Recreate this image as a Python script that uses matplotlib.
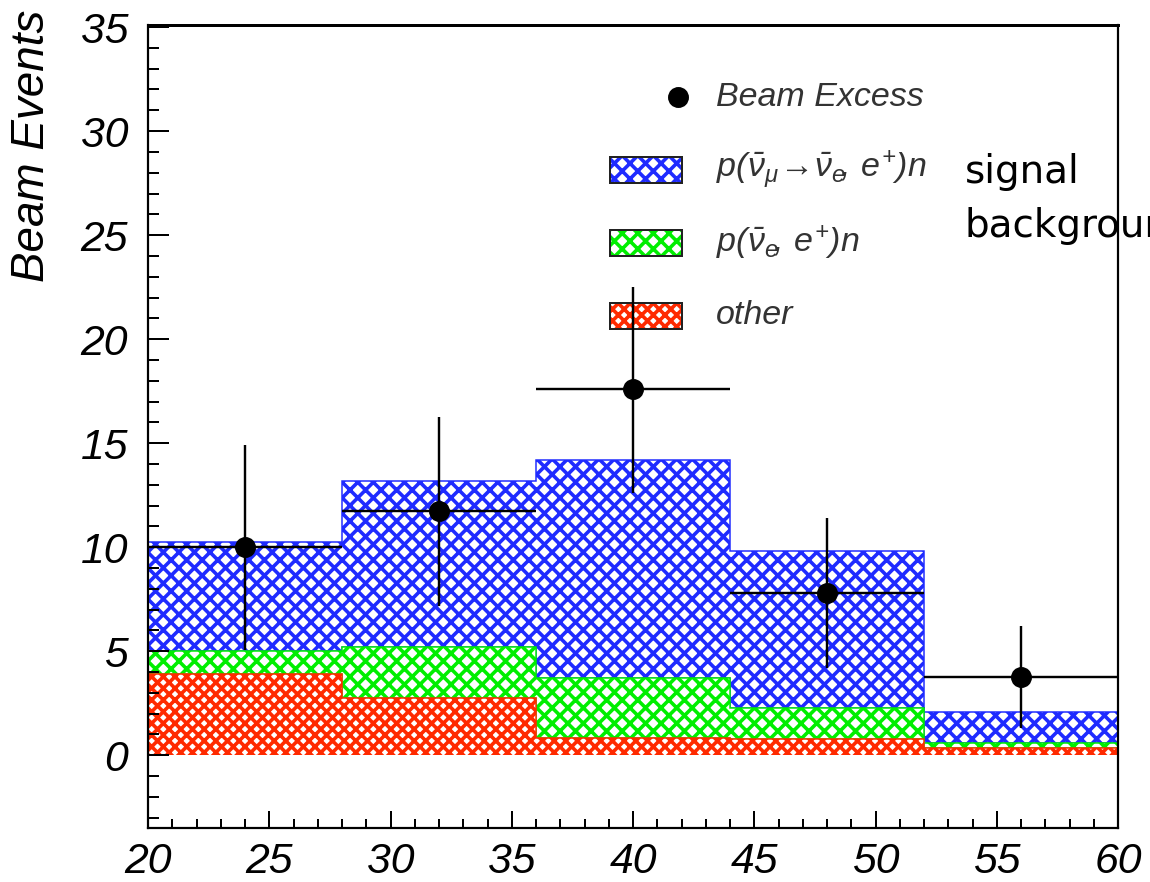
#!/usr/bin/env python3
"""
Beam excess vs. stacked expectation (signal + backgrounds), ROOT-style figure.
Writes out.png (1150x882).
"""

import matplotlib
matplotlib.use("Agg")
import matplotlib.pyplot as plt
import matplotlib.ticker as ticker
from matplotlib.patches import Rectangle
import numpy as np

# ---------------------------------------------------------------------------
# Data
# ---------------------------------------------------------------------------
BIN_EDGES = [20, 28, 36, 44, 52, 60]

# per-component contributions, stacked bottom -> top
OTHER     = [3.9, 2.75, 0.85, 0.8, 0.35]
NUE_BKG   = [1.1, 2.45, 2.85, 1.45, 0.25]   # p(nubar_e, e+)n
SIGNAL    = [5.25, 8.0, 10.5, 7.55, 1.5]    # p(nubar_mu -> nubar_e, e+)n

EXCESS_X   = [24, 32, 40, 48, 56]
EXCESS_Y   = [10.0, 11.75, 17.6, 7.8, 3.75]
EXCESS_LO  = [4.95, 4.6, 5.0, 3.6, 2.45]
EXCESS_HI  = [4.9, 4.5, 4.9, 3.6, 2.45]
EXCESS_XERR = [4, 4, 4, 4, 4]

X_LIM = (20, 60)
Y_LIM = (-3.5, 35.1)

# ---------------------------------------------------------------------------
# Style
# ---------------------------------------------------------------------------
W, H = 1150, 882
DPI  = 140


def px(p):
    """pixels -> points at the output dpi"""
    return p * 72.0 / DPI


plt.rcParams.update({
    "font.family":       ["Liberation Sans", "DejaVu Sans"],
    "font.style":        "italic",
    "mathtext.fontset":  "custom",
    "mathtext.rm":       "Liberation Sans",
    "mathtext.it":       "Liberation Sans:italic",
    "mathtext.sf":       "Liberation Sans",
    "hatch.linewidth":   px(3.6),
})

BLUE  = "#1f2bff"
GREEN = "#00ee00"
RED   = "#ff2a00"
HATCH_SIG = "xxx"
HATCH_OTH = "xxxx"
LEG_FS = 17.5


def to_ax(xp, yp):
    """pixel position in the picture -> axes fraction"""
    return (xp - 148) / 970.0, (828 - yp) / 803.0


def main():
    fig = plt.figure(figsize=(W / DPI, H / DPI), dpi=DPI)
    ax = fig.add_axes([148 / W, 1 - 828 / H, 970 / W, 803 / H])

    edges = np.array(BIN_EDGES, dtype=float)
    red_top   = np.array(OTHER)
    green_top = red_top + np.array(NUE_BKG)
    blue_top  = green_top + np.array(SIGNAL)

    ax.stairs(blue_top, edges, baseline=green_top, fill=True,
              facecolor="white", edgecolor=BLUE, hatch=HATCH_SIG, lw=px(1.5), zorder=1)
    ax.stairs(green_top, edges, baseline=red_top, fill=True,
              facecolor="white", edgecolor=GREEN, hatch=HATCH_SIG, lw=px(1.5), zorder=1)
    ax.stairs(red_top, edges, baseline=0, fill=True,
              facecolor="white", edgecolor=RED, hatch=HATCH_OTH, lw=px(1.5), zorder=1)

    ax.errorbar(EXCESS_X, EXCESS_Y, xerr=EXCESS_XERR, yerr=[EXCESS_LO, EXCESS_HI],
                fmt="o", color="black", ms=px(19), elinewidth=px(2.4),
                capsize=0, zorder=5)

    ax.set_xlim(*X_LIM)
    ax.set_ylim(*Y_LIM)

    # axes / ticks
    for s in ax.spines.values():
        s.set_linewidth(px(2.2))
    ax.spines["top"].set_linewidth(px(3))
    ax.xaxis.set_major_locator(ticker.MultipleLocator(5))
    ax.xaxis.set_minor_locator(ticker.MultipleLocator(1))
    ax.yaxis.set_major_locator(ticker.MultipleLocator(5))
    ax.yaxis.set_minor_locator(ticker.MultipleLocator(1))
    ax.tick_params(which="both", direction="in", top=False, right=False,
                   width=px(2), labelsize=22)
    ax.tick_params(axis="x", which="major", length=px(17), pad=px(14))
    ax.tick_params(axis="x", which="minor", length=px(9))
    ax.tick_params(axis="y", which="major", length=px(21), pad=px(20))
    ax.tick_params(axis="y", which="minor", length=px(10.5))

    fig.text(32 / W, 1 - 10 / H, "Beam Events", rotation=90,
             ha="center", va="top", fontsize=23.5)

    # hand-placed legend, ROOT TLegend style
    bx0, _ = to_ax(610, 0)
    bx1, _ = to_ax(682, 0)
    tx, _ = to_ax(716, 0)
    box_h = 26 / 803.0
    mx, my = to_ax(678, 97)
    ax.plot([mx], [my], "o", color="black", ms=px(19),
            transform=ax.transAxes, clip_on=False, zorder=4)
    ax.text(tx, my, "Beam Excess", transform=ax.transAxes, color="#333333",
            ha="left", va="center", fontsize=LEG_FS)

    entries = [
        (170, BLUE, HATCH_SIG, r"$p(\bar{\mathrm{\nu}}_{\mathrm{\mu}}\!\rightarrow\!\bar{\mathrm{\nu}}_{e}\!,\,e^{+})n$"),
        (243, GREEN, HATCH_SIG, r"$p(\bar{\mathrm{\nu}}_{e}\!,\,e^{+})n$"),
        (316, RED, HATCH_OTH, "other"),
    ]
    for yp, col, hatch, label in entries:
        _, yc = to_ax(0, yp)
        ax.add_patch(Rectangle((bx0, yc - box_h / 2), bx1 - bx0, box_h,
                               transform=ax.transAxes, facecolor="white",
                               edgecolor=col, hatch=hatch, lw=0, zorder=3))
        ax.add_patch(Rectangle((bx0, yc - box_h / 2), bx1 - bx0, box_h,
                               transform=ax.transAxes, facecolor="none",
                               edgecolor="#222222", lw=px(2), zorder=3))
        ax.text(tx, yc, label, transform=ax.transAxes, color="#333333",
                ha="left", va="center", fontsize=LEG_FS)

    # annotation overlaid on the slide (runs off the right edge, as in the original)
    fig.text(965 / W, 1 - 183 / H, "signal", ha="left", va="baseline",
             fontsize=20, family="DejaVu Sans", style="normal")
    fig.text(965 / W, 1 - 237 / H, "background", ha="left", va="baseline",
             fontsize=20, family="DejaVu Sans", style="normal")

    fig.savefig("out.png", dpi=DPI)
    plt.close(fig)


if __name__ == "__main__":
    main()
